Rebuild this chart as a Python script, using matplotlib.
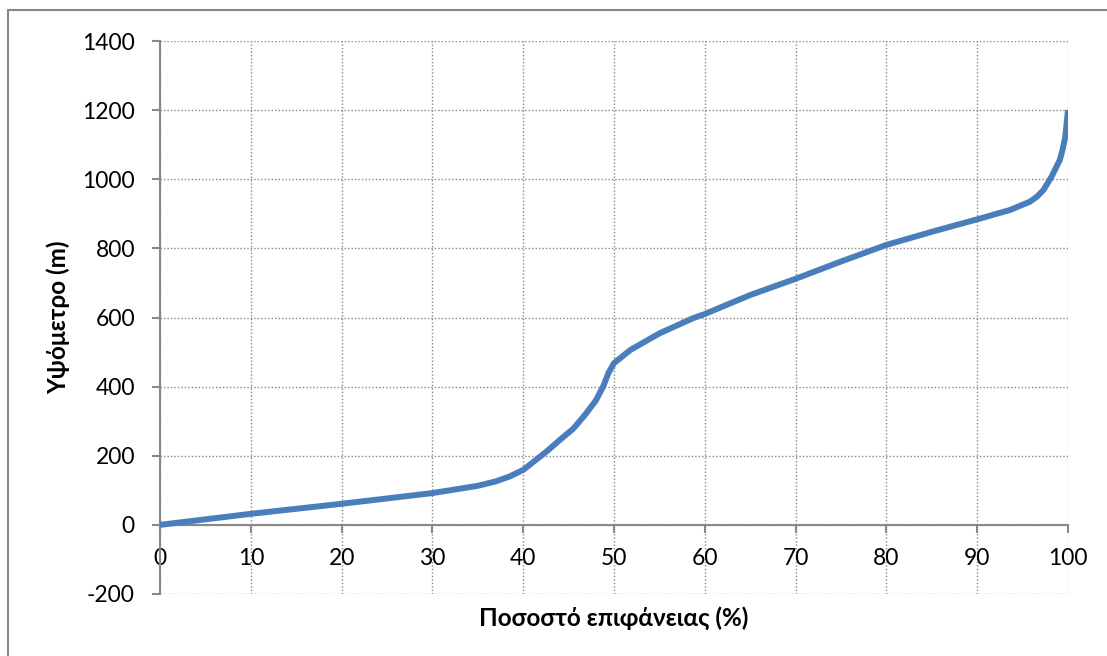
"""Hypsometric curve: elevation vs cumulative surface percentage."""

import matplotlib
matplotlib.use("Agg")
import matplotlib.pyplot as plt
from matplotlib.patches import Rectangle

# ---------------------------------------------------------------------------
# Data
# ---------------------------------------------------------------------------
area_pct = [0, 10, 20, 30, 35, 37, 38.5, 40, 41.5, 42.7, 44, 45.5, 46.8, 48,
            48.8, 49.4, 50, 51.8, 55, 58.7, 60, 62.8, 65, 70, 75, 80, 85, 90,
            93.6, 95.8, 96.6, 97.3, 98.2, 99.1, 99.4, 99.7, 100]
elevation = [0, 32, 61, 92, 113, 126, 140, 159, 190, 215, 245, 278, 318, 360,
             400, 440, 468, 506, 554, 598, 610, 641, 665, 712, 762, 810, 848,
             884, 911, 935, 950, 969, 1008, 1056, 1085, 1123, 1200]

x_ticks = list(range(0, 101, 10))
y_ticks = list(range(-200, 1401, 200))

x_label = "Ποσοστό επιφάνειας (%)"
y_label = "Υψόμετρο (m)"

LINE_COLOUR = "#4A7EBB"
AXIS_COLOUR = "#888888"

plt.rcParams["font.family"] = ["Lato", "DejaVu Sans"]
plt.rcParams["axes.unicode_minus"] = False

fig = plt.figure(figsize=(11.07, 6.56), dpi=100)
ax = fig.add_axes([160 / 1107, 1 - 594 / 656, 908 / 1107, 553 / 656])

ax.plot(area_pct, elevation, color=LINE_COLOUR, linewidth=4.3,
        solid_capstyle="butt", solid_joinstyle="round", zorder=3)

ax.set_xlim(0, 100)
ax.set_ylim(-200, 1400)
ax.set_xticks(x_ticks)
ax.set_yticks(y_ticks)

ax.grid(True, linestyle=(0, (1, 1.5)), color=AXIS_COLOUR, linewidth=1.0)
ax.set_axisbelow(True)

# x axis crosses at y = 0, as in the spreadsheet original
ax.spines["bottom"].set_position(("data", 0))
ax.spines["top"].set_visible(False)
ax.spines["right"].set_visible(False)
for side in ("left", "bottom"):
    ax.spines[side].set_color(AXIS_COLOUR)
    ax.spines[side].set_linewidth(1.5)

ax.tick_params(axis="both", colors=AXIS_COLOUR, labelcolor="black",
               length=6, width=1.5, labelsize=16.5, direction="out")
ax.tick_params(axis="y", pad=12)
ax.tick_params(axis="x", pad=11)

ax.set_xlabel(x_label, fontsize=17.5, fontweight="bold")
ax.xaxis.set_label_coords(0.5, -0.022)
ax.set_ylabel(y_label, fontsize=17.5, fontweight="bold")
ax.yaxis.set_label_coords(-0.099, 0.5)

# outer chart border (only left and top edges fall inside the image)
fig.patches.append(Rectangle((8 / 1107, -0.1), 2, (656 - 10) / 656 + 0.1,
                             transform=fig.transFigure, fill=False,
                             edgecolor=AXIS_COLOUR, linewidth=1.5))

fig.savefig("out.png", dpi=100)
plt.close(fig)
